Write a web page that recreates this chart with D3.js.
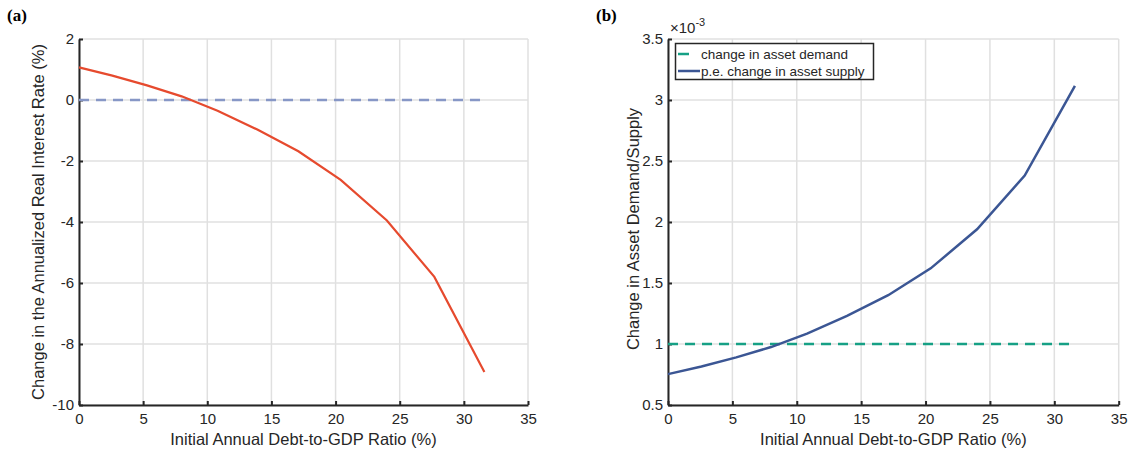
<!DOCTYPE html>
<html><head><meta charset="utf-8">
<script src="https://cdn.jsdelivr.net/npm/d3@7"></script>
<style>
body{margin:0;background:#fff;}
svg{display:block;font-family:"Liberation Sans",Arial,Helvetica,sans-serif;}
</style></head>
<body><svg id="c" width="1129" height="452"></svg>
<script>
// ---- data ----
const debtRatio = [0, 2.6, 5.3, 8.0, 10.8, 13.9, 17.1, 20.4, 24.0, 27.7, 31.6];
const rateChange = [1.07, 0.80, 0.48, 0.12, -0.35, -0.97, -1.68, -2.62, -3.95, -5.8, -8.92];
const rateBaseline = [0, 0, 0, 0, 0, 0, 0, 0, 0, 0, 0];
const assetDemand = [1, 1, 1, 1, 1, 1, 1, 1, 1, 1, 1];
const assetSupply = [0.753, 0.815, 0.89, 0.975, 1.085, 1.23, 1.40, 1.62, 1.94, 2.38, 3.115];
const xTicks = [0, 5, 10, 15, 20, 25, 30, 35];
const yTicksA = [2, 0, -2, -4, -6, -8, -10];
const yTicksB = [0.5, 1, 1.5, 2, 2.5, 3, 3.5];
const legendLabels = ["change in asset demand", "p.e. change in asset supply"];

const svg = d3.select("#c");
const gridColor = "#e0e0e0", axisColor = "#262626";

function panel(cfg){
  const x = d3.scaleLinear().domain([0,35]).range(cfg.xr);
  const y = d3.scaleLinear().domain(cfg.yd).range([405,39]);
  const g = svg.append("g");
  // grid
  g.selectAll(".gx").data(xTicks).enter().append("line")
    .attr("x1",d=>x(d)).attr("x2",d=>x(d)).attr("y1",y.range()[0]).attr("y2",y.range()[1])
    .attr("stroke",gridColor).attr("stroke-width",1.5);
  g.selectAll(".gy").data(cfg.yt).enter().append("line")
    .attr("y1",d=>y(d)).attr("y2",d=>y(d)).attr("x1",cfg.xr[0]).attr("x2",cfg.xr[1])
    .attr("stroke",gridColor).attr("stroke-width",1.5);
  // axes
  const fmt = d=>String(d);
  const xa = d3.axisBottom(x).tickValues(xTicks).tickSizeInner(-4).tickSizeOuter(0).tickPadding(8).tickFormat(fmt);
  const ya = d3.axisLeft(y).tickValues(cfg.yt).tickSizeInner(-4).tickSizeOuter(0).tickPadding(5).tickFormat(fmt);
  const gx = g.append("g").attr("transform",`translate(0,405)`).call(xa);
  const gy = g.append("g").attr("transform",`translate(${cfg.xr[0]},0)`).call(ya);
  [gx,gy].forEach(a=>{
    a.select(".domain").attr("stroke",axisColor).attr("stroke-width",2);
    a.selectAll(".tick line").attr("stroke",axisColor).attr("stroke-width",2);
    a.selectAll("text").attr("fill","#262626").style("font-size","15px").style("font-family","Liberation Sans, Arial, sans-serif");
  });
  // titles
  g.append("text").attr("x",(cfg.xr[0]+cfg.xr[1])/2).attr("y",445).attr("text-anchor","middle")
    .style("font-size","16.5px").attr("fill","#262626").text("Initial Annual Debt-to-GDP Ratio (%)");
  g.append("text").attr("transform",`translate(${cfg.ylx},${cfg.ylc}) rotate(-90)`).attr("text-anchor","middle")
    .style("font-size","16.5px").attr("fill","#262626").text(cfg.ylabel);
  g.append("text").attr("x",cfg.px).attr("y",21).style("font-family","Liberation Serif, Times New Roman, serif")
    .style("font-weight","bold").style("font-size","17px").attr("fill","#000").text(cfg.plabel);
  return {g,x,y};
}

const line = (x,y)=>d3.line().x((d,i)=>x(debtRatio[i])).y(d=>y(d));

// Panel A
const A = panel({xr:[79,528], yd:[-10,2], yt:yTicksA, ylx:44, ylc:222,
  ylabel:"Change in the Annualized Real Interest Rate (%)", px:7, plabel:"(a)"});
A.g.append("path").datum(rateBaseline).attr("d",line(A.x,A.y)).attr("fill","none")
  .attr("stroke","#8797c6").attr("stroke-width",2.5).attr("stroke-dasharray","10,7");
A.g.append("path").datum(rateChange).attr("d",line(A.x,A.y)).attr("fill","none")
  .attr("stroke","#e64a2e").attr("stroke-width",2.2);

// Panel B
const B = panel({xr:[668,1118.7], yd:[0.5,3.5], yt:yTicksB, ylx:639, ylc:229,
  ylabel:"Change in Asset Demand/Supply", px:596, plabel:"(b)"});
B.g.append("text").attr("x",670).attr("y",33).style("font-size","15px").attr("fill","#262626")
  .html('×10<tspan dy="-7" font-size="11px">-3</tspan>');
B.g.append("path").datum(assetDemand).attr("d",line(B.x,B.y)).attr("fill","none")
  .attr("stroke","#16a085").attr("stroke-width",2.5).attr("stroke-dasharray","10,7");
B.g.append("path").datum(assetSupply).attr("d",line(B.x,B.y)).attr("fill","none")
  .attr("stroke","#3b5694").attr("stroke-width",2.5);

// legend
const lg = B.g.append("g");
lg.append("rect").attr("x",675.5).attr("y",43.5).attr("width",198).attr("height",36)
  .attr("fill","#fff").attr("stroke","#262626").attr("stroke-width",1.5);
const cols = ["#16a085","#3b5694"], lens=[11,22];
legendLabels.forEach((t,i)=>{
  const yy = 54 + i*17;
  lg.append("line").attr("x1",678).attr("x2",678+lens[i]).attr("y1",yy).attr("y2",yy)
    .attr("stroke",cols[i]).attr("stroke-width",2.5);
  lg.append("text").attr("x",701).attr("y",yy+4.5).style("font-size","13.5px").attr("fill","#262626").text(t);
});
</script></body></html>
